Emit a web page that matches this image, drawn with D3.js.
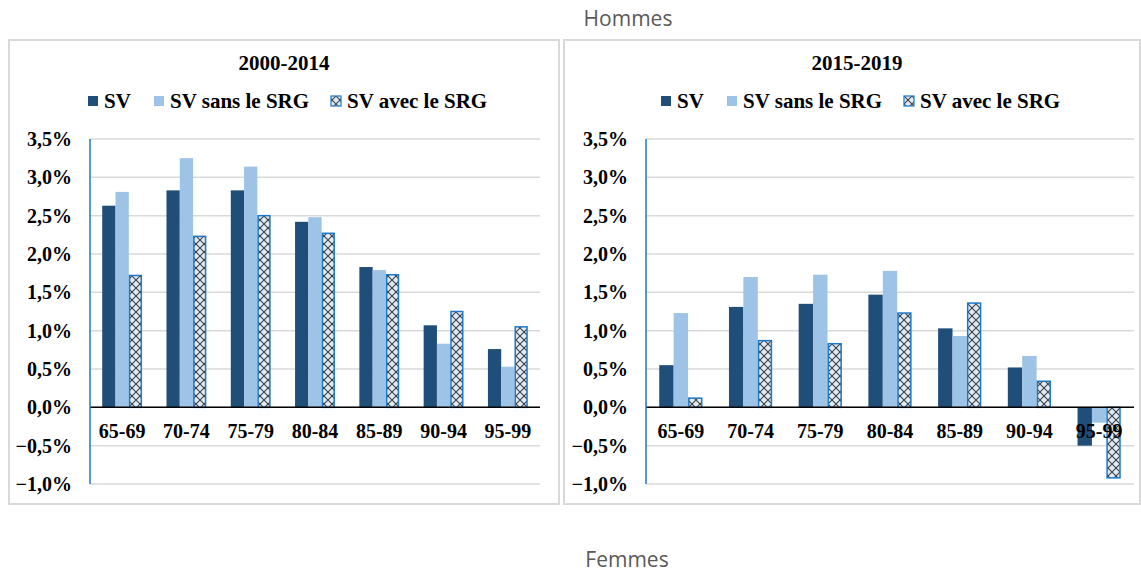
<!DOCTYPE html>
<html>
<head>
<meta charset="utf-8">
<script src="https://cdn.jsdelivr.net/npm/d3@7"></script>
<style>
  body { margin: 0; background: #fff; }
  svg text { font-family: "Liberation Serif", "Times New Roman", serif; font-weight: bold; fill: #000; }
  .caption { font-family: "Open Sans", sans-serif !important; font-weight: normal !important; fill: #595959 !important; }
</style>
</head>
<body>
<svg id="chart" width="1141" height="573"></svg>
<script>
// data
const ageGroups = ['65-69', '70-74', '75-79', '80-84', '85-89', '90-94', '95-99'];
const seriesNames = ['SV', 'SV sans le SRG', 'SV avec le SRG'];
const yTicks = [-0.01, -0.005, 0, 0.005, 0.01, 0.015, 0.02, 0.025, 0.03, 0.035];

// 2000-2014
const sv0014 = [2.63, 2.83, 2.83, 2.42, 1.83, 1.07, 0.76];
const sansSrg0014 = [2.81, 3.25, 3.14, 2.48, 1.79, 0.83, 0.53];
const avecSrg0014 = [1.72, 2.23, 2.50, 2.27, 1.73, 1.25, 1.05];

// 2015-2019
const sv1519 = [0.55, 1.31, 1.35, 1.47, 1.03, 0.52, -0.50];
const sansSrg1519 = [1.23, 1.70, 1.73, 1.78, 0.93, 0.67, -0.20];
const avecSrg1519 = [0.12, 0.87, 0.83, 1.23, 1.36, 0.34, -0.92];

const svg = d3.select('#chart');
const colors = ['#1f4e79', '#9dc3e6', 'url(#hatch)'];

// crosshatch pattern for "avec le SRG"
const defs = svg.append('defs');
const pat = defs.append('pattern')
  .attr('id', 'hatch')
  .attr('patternUnits', 'userSpaceOnUse')
  .attr('width', 8).attr('height', 8);
pat.append('rect').attr('width', 8).attr('height', 8).attr('fill', '#dfeaf6');
pat.append('path').attr('d', 'M0,0 L8,8 M8,0 L0,8')
  .attr('stroke', '#404040').attr('stroke-width', 1.1);
pat.append('circle').attr('cx', 4).attr('cy', 4).attr('r', 0.9).attr('fill', '#404040');

const fmt = v => d3.format('.1f')(v * 100).replace('.', ',') + '%';

// captions
svg.append('text').attr('class', 'caption')
  .attr('x', 628).attr('y', 26).attr('text-anchor', 'middle')
  .style('font-size', '21px').text('Hommes');
svg.append('text').attr('class', 'caption')
  .attr('x', 627).attr('y', 567).attr('text-anchor', 'middle')
  .style('font-size', '21px').text('Femmes');

function drawPanel(opts) {
  const { box, x0, x1, title, titleX, values, legendX } = opts;

  svg.append('rect')
    .attr('x', box[0]).attr('y', box[1])
    .attr('width', box[2]).attr('height', box[3])
    .attr('fill', 'none').attr('stroke', '#d9d9d9').attr('stroke-width', 2);

  const y = d3.scaleLinear().domain([-0.01, 0.035]).range([484, 139]);
  const x = d3.scaleBand().domain(ageGroups).range([x0, x1]).paddingInner(0.38).paddingOuter(0.19);
  const xs = d3.scaleBand().domain(seriesNames).range([0, x.bandwidth()]);

  const g = svg.append('g');

  // gridlines
  g.selectAll('line.grid').data(yTicks).enter().append('line')
    .attr('x1', x0).attr('x2', x1)
    .attr('y1', d => y(d)).attr('y2', d => y(d))
    .attr('stroke', '#d9d9d9').attr('stroke-width', 1.5);

  // y tick labels
  g.selectAll('text.ytick').data(yTicks).enter().append('text')
    .attr('x', x0 - 18).attr('y', d => y(d) + 7)
    .attr('text-anchor', 'end')
    .style('font-size', '20px')
    .text(fmt);

  // bars
  seriesNames.forEach((s, si) => {
    g.selectAll('rect.s' + si).data(values[si]).enter().append('rect')
      .attr('x', (d, i) => x(ageGroups[i]) + xs(s) + (si === 2 ? 0.75 : 0))
      .attr('y', d => y(Math.max(0, d / 100)))
      .attr('width', xs.bandwidth() - (si === 2 ? 1.5 : 0))
      .attr('height', d => Math.abs(y(d / 100) - y(0)))
      .attr('fill', colors[si])
      .attr('stroke', si === 2 ? '#1e78c8' : 'none')
      .attr('stroke-width', si === 2 ? 1.5 : 0);
  });

  // zero line
  g.append('line')
    .attr('x1', x0).attr('x2', x1)
    .attr('y1', y(0)).attr('y2', y(0))
    .attr('stroke', '#000').attr('stroke-width', 1.5);

  // y axis line
  g.append('line')
    .attr('x1', x0).attr('x2', x0)
    .attr('y1', y(0.035)).attr('y2', y(-0.01))
    .attr('stroke', '#1e78c8').attr('stroke-width', 1.5);

  // category labels just below zero
  g.selectAll('text.cat').data(ageGroups).enter().append('text')
    .attr('x', d => x(d) + x.bandwidth() / 2)
    .attr('y', y(0) + 31)
    .attr('text-anchor', 'middle')
    .style('font-size', '20px')
    .text(d => d);

  // title
  svg.append('text')
    .attr('x', titleX).attr('y', 70)
    .attr('text-anchor', 'middle')
    .style('font-size', '21px')
    .text(title);

  // legend
  const lg = svg.append('g');
  seriesNames.forEach((s, si) => {
    lg.append('rect')
      .attr('x', legendX[si]).attr('y', 96)
      .attr('width', 10).attr('height', 10)
      .attr('fill', colors[si])
      .attr('stroke', si === 2 ? '#1e78c8' : 'none')
      .attr('stroke-width', 1.2);
    lg.append('text')
      .attr('x', legendX[si] + 16).attr('y', 108)
      .style('font-size', '21px')
      .text(s);
  });
}

drawPanel({
  box: [9, 40, 550, 464], x0: 90, x1: 540, title: '2000-2014', titleX: 284,
  values: [sv0014, sansSrg0014, avecSrg0014], legendX: [88, 154, 331]
});
drawPanel({
  box: [564, 40, 576, 464], x0: 646, x1: 1134, title: '2015-2019', titleX: 857,
  values: [sv1519, sansSrg1519, avecSrg1519], legendX: [661, 727, 904]
});
</script>
</body>
</html>
